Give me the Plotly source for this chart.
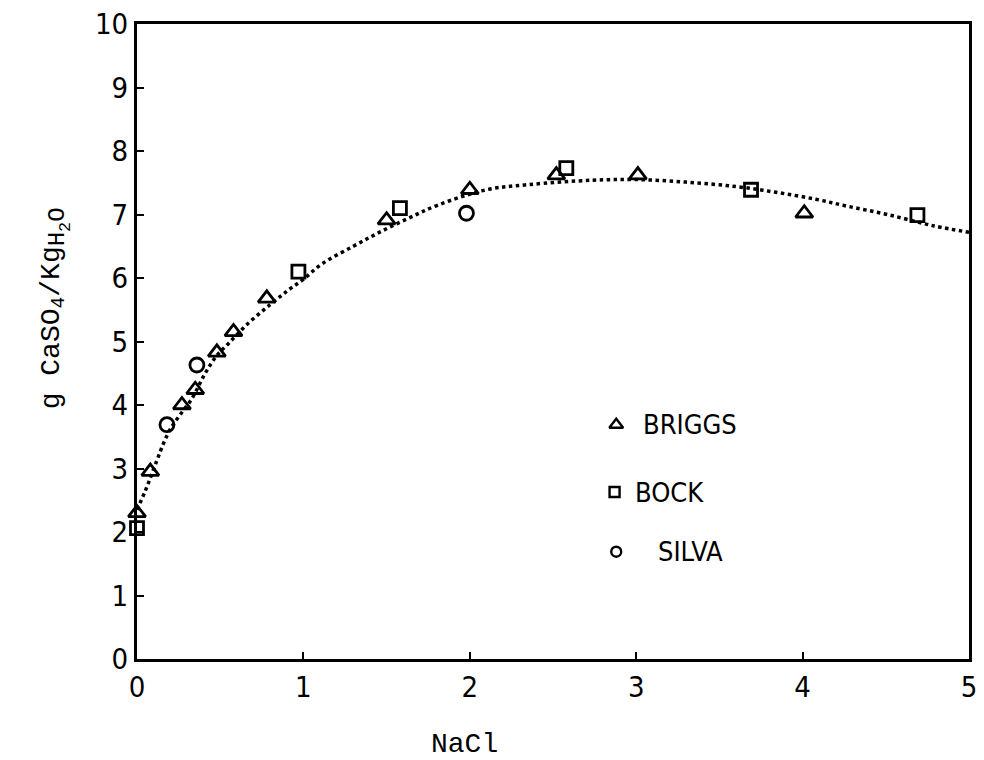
import plotly.graph_objects as go

# Solubility of CaSO4 (g per kg H2O) against NaCl concentration
briggs_x = [0.0, 0.08, 0.27, 0.35, 0.48, 0.58, 0.78, 1.50, 2.00, 2.52, 3.01, 4.01]
briggs_y = [2.30, 2.95, 4.00, 4.24, 4.83, 5.15, 5.68, 6.91, 7.39, 7.62, 7.62, 7.02]

bock_x = [0.0, 0.97, 1.58, 2.58, 3.69, 4.69]
bock_y = [2.06, 6.10, 7.10, 7.73, 7.39, 6.99]

silva_x = [0.18, 0.36, 1.98]
silva_y = [3.69, 4.63, 7.02]

# Smoothed fit curve through all data sets
curve_x = [0.0, 0.05, 0.12, 0.16, 0.2, 0.26, 0.33, 0.41, 0.48, 0.55, 0.67, 0.8,
           0.91, 1.0, 1.11, 1.3, 1.45, 1.63, 1.81, 2.1, 2.35, 2.74, 3.0,
           3.3, 3.6, 3.84, 4.08, 4.27, 4.51, 4.79, 5.0]
curve_y = [2.35, 2.65, 3.13, 3.4, 3.62, 3.85, 4.1, 4.5, 4.78, 4.97, 5.29, 5.58,
           5.81, 5.98, 6.22, 6.5, 6.71, 6.94, 7.15, 7.39, 7.47, 7.54, 7.55,
           7.51, 7.44, 7.35, 7.24, 7.13, 7.0, 6.82, 6.72]

x_ticks = [0, 1, 2, 3, 4, 5]
y_ticks = list(range(0, 11))

series_names = ["BRIGGS", "BOCK", "SILVA"]
x_title = "NaCl"
y_title = ("g CaSO<sub>4</sub>/Kg<sub><span style='font-size:24px'>"
           "H<sub>2</sub>O</span></sub>")

NARROW = "Liberation Sans Narrow, DejaVu Sans Condensed, Arial Narrow, sans-serif"
MONO = "Liberation Mono, Courier New, monospace"

fig = go.Figure()

fig.add_trace(go.Scatter(
    x=curve_x, y=curve_y, mode="lines", line_shape="spline",
    line=dict(color="black", width=3.5, dash="dot"), showlegend=False,
))

marker_line = dict(color="black", width=2.8)
fig.add_trace(go.Scatter(
    x=briggs_x, y=briggs_y, mode="markers", name=series_names[0],
    marker=dict(symbol="triangle-up-open", size=15, color="black", line=marker_line),
    showlegend=False, cliponaxis=False,
))
fig.add_trace(go.Scatter(
    x=bock_x, y=bock_y, mode="markers", name=series_names[1],
    marker=dict(symbol="square-open", size=13, color="black", line=marker_line),
    showlegend=False, cliponaxis=False,
))
fig.add_trace(go.Scatter(
    x=silva_x, y=silva_y, mode="markers", name=series_names[2],
    marker=dict(symbol="circle-open", size=14, color="black", line=marker_line),
    showlegend=False, cliponaxis=False,
))

# Hand-placed key inside the plot area
key_marker_x = [2.88, 2.87, 2.88]
key_marker_y = [3.69, 2.63, 1.69]
key_symbols = ["triangle-up-open", "square-open", "circle-open"]
key_sizes = [12, 10, 10]
key_text_x = [3.03, 2.98, 3.12]

for mx, my, sym, sz, tx, name in zip(key_marker_x, key_marker_y, key_symbols,
                                      key_sizes, key_text_x, series_names):
    fig.add_trace(go.Scatter(
        x=[mx], y=[my], mode="markers", showlegend=False,
        marker=dict(symbol=sym, size=sz, color="black",
                    line=dict(color="black", width=2.4)),
    ))
    fig.add_annotation(
        x=tx, y=my, xref="x", yref="y", text=name, showarrow=False,
        xanchor="left", yanchor="middle",
        font=dict(family=NARROW, size=27, color="black"),
    )

# Axis titles placed as annotations
fig.add_annotation(
    x=0.394, y=-0.135, xref="paper", yref="paper", text=x_title,
    showarrow=False, xanchor="center", yanchor="middle",
    font=dict(family=MONO, size=28, color="black"),
)
fig.add_annotation(
    x=-0.098, y=0.553, xref="paper", yref="paper", text=y_title,
    showarrow=False, xanchor="center", yanchor="middle", textangle=-90,
    font=dict(family=MONO, size=28, color="black"),
)

axis_common = dict(
    showgrid=False, zeroline=False, showline=True, linecolor="black",
    linewidth=3, mirror=True, ticks="inside", ticklen=7, tickwidth=2,
    tickcolor="black", tickfont=dict(family=NARROW, size=29, color="black"),
)

fig.update_xaxes(range=[0, 5], tickvals=x_ticks,
                 ticktext=[str(v) for v in x_ticks], **axis_common)
fig.update_yaxes(range=[0, 10], tickvals=y_ticks,
                 ticktext=[str(v) for v in y_ticks], **axis_common)

fig.update_layout(
    width=984, height=760,
    margin=dict(l=137, r=7, t=24, b=101),
    paper_bgcolor="white", plot_bgcolor="white",
    showlegend=False,
)

fig.write_html("out.html")
